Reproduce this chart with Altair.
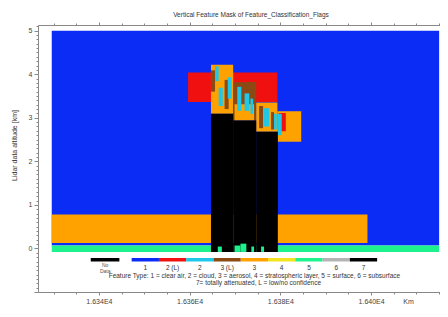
import altair as alt
import pandas as pd

FONT = "Liberation Sans"
title_text = "Vertical Feature Mask of Feature_Classification_Flags"

# feature type codes and colours
type_codes = ["clear", "cloudL", "cloud", "aeroL", "aero", "strat", "surf", "sub", "att", "nodata"]
type_colors = ["#0a2cf5", "#f01010", "#1ec8e6", "#8b4a14", "#ffa200", "#f2e41e", "#1ef28c", "#b4b4b4", "#000000", "#000000"]

# mask rectangles (along-track km, altitude km)
rx0 = [16329.6, 16329.6, 16329.6, 16359.65, 16364.7, 16369.6, 16374.67, 16379.35,
       16364.7, 16367.7, 16365.6, 16366.4, 16368.4, 16369.9, 16370.5, 16372.1, 16373.4,
       16375.3, 16376.4, 16377.95, 16378.6, 16379.65, 16379.4,
       16364.7, 16369.6, 16374.67,
       16366.2, 16369.9, 16371.2, 16373.6, 16375.75]
rx1 = [16415.0, 16415.0, 16399.2, 16379.35, 16369.6, 16374.67, 16379.35, 16384.6,
       16365.6, 16368.6, 16366.4, 16367.3, 16369.25, 16374.2, 16371.4, 16373.15, 16374.0,
       16376.2, 16377.5, 16378.6, 16379.2, 16381.2, 16380.3,
       16369.6, 16374.67, 16379.44,
       16367.1, 16371.2, 16372.5, 16374.2, 16376.4]
ry0 = [0.067, -0.08, 0.127, 3.36, 3.09, 2.94, 2.68, 2.45,
       3.6, 3.2, 3.84, 3.27, 3.44, 2.94, 3.16, 3.16, 3.09,
       2.76, 2.8, 2.73, 2.73, 2.69, 2.6,
       -0.08, -0.08, -0.08,
       -0.08, -0.08, -0.08, -0.08, -0.08]
ry1 = [5.0, 0.067, 0.78, 4.04, 4.22, 3.82, 3.35, 3.15,
       4.09, 3.87, 4.18, 3.69, 3.93, 3.31, 3.71, 3.56, 3.44,
       3.27, 3.22, 3.13, 3.09, 3.11, 3.09,
       3.09, 2.94, 2.68,
       0.044, 0.067, 0.11, 0.044, 0.044]
rtype = ["clear", "surf", "aero", "cloudL", "aero", "aeroL", "aero", "aero",
         "aeroL", "aeroL", "cloud", "cloud", "cloud", "aero", "cloud", "cloud", "cloud",
         "aeroL", "cloud", "aeroL", "cloud", "cloudL", "cloud",
         "att", "att", "att",
         "surf", "surf", "surf", "surf", "surf"]

# legend
legend_start = [-1.5, 0, 1, 2, 3, 4, 5, 6, 7, 8]
legend_end = [-0.45, 1, 2, 3, 4, 5, 6, 7, 8, 9]
legend_type = ["nodata", "clear", "cloudL", "cloud", "aeroL", "aero", "strat", "surf", "sub", "att"]
legend_labels = ["", "1", "2 (L)", "2", "3 (L)", "3", "4", "5", "6", "7"]
legend_note1 = "Feature Type: 1 = clear air,  2 = cloud,  3 = aerosol,  4 = stratospheric layer,  5 = surface,  6 = subsurface"
legend_note2 = "7= totally attenuated,  L = low/no confidence"

# axes ticks
X_DOM = [16326.57, 16415.19]
Y_DOM = [-1.0, 5.13]
x_ticks = list(range(16330, 16416, 5))
y_ticks = [round(-1.0 + 0.1 * i, 1) for i in range(0, 62)]
LEG_DOM = [-3.434, 11.305]

W, H = 402, 267

df = pd.DataFrame({"x0": rx0, "x1": rx1, "y0": ry0, "y1": ry1, "t": rtype,
                   "k": list(range(len(rx0)))})
leg = pd.DataFrame({"i0": legend_start, "i1": legend_end, "t": legend_type,
                    "lab": legend_labels})
leg["ic"] = (leg["i0"] + leg["i1"]) / 2

color_scale = alt.Scale(domain=type_codes, range=type_colors)
int_test = "abs(datum.value - round(datum.value)) < 0.001"

y_axis = alt.Axis(
    values=y_ticks, orient="left", grid=False,
    labelExpr=f"({int_test}) && datum.value > -0.5 ? format(datum.value, 'd') : ''",
    tickSize={"condition": {"test": int_test, "value": 4}, "value": 2},
    labelFontSize=7, labelFont=FONT, labelColor="#444", labelPadding=2,
    labelOverlap=False, labelFlush=False,
    domainColor="#888", tickColor="#888",
    title="Lidar data altitude [km]", titleFontSize=7, titleFont=FONT,
    titleFontWeight="normal", titleColor="#333",
    titleX=-24, titleY=120, titleAngle=270, titleBaseline="middle", titleAlign="center",
)
maj_test = "datum.value % 20 === 0"
x_axis = alt.Axis(
    values=x_ticks, orient="bottom", grid=False,
    labelExpr=f"{maj_test} ? replace(format(datum.value, '.3e'), 'e+', 'E') : ''",
    tickSize={"condition": {"test": maj_test, "value": 3}, "value": 2},
    labelFontSize=7, labelFont=FONT, labelColor="#444", labelPadding=2,
    labelOverlap=False, labelFlush=False,
    domainColor="#888", tickColor="#888",
    title="Km", titleFontSize=7, titleFont=FONT, titleFontWeight="normal", titleColor="#444",
    titleX=370, titleY=9, titleBaseline="middle", titleAlign="center",
)
top_axis = alt.Axis(
    values=x_ticks, orient="top", grid=False, labels=False, title=None,
    tickSize={"condition": {"test": maj_test, "value": 3}, "value": 2},
    domainColor="#888", tickColor="#888",
)

main = alt.Chart(df).mark_rect(clip=True).encode(
    x=alt.X("x0:Q", scale=alt.Scale(domain=X_DOM, nice=False, zero=False), axis=x_axis),
    x2="x1:Q",
    y=alt.Y("y0:Q", scale=alt.Scale(domain=Y_DOM, nice=False, zero=False), axis=y_axis),
    y2="y1:Q",
    color=alt.Color("t:N", scale=color_scale, legend=None),
    order=alt.Order("k:Q"),
)

top = alt.Chart(df).mark_point(opacity=0).encode(
    x=alt.X("x0:Q", scale=alt.Scale(domain=X_DOM, nice=False, zero=False), axis=top_axis),
)

leg_scale = alt.Scale(domain=LEG_DOM, nice=False, zero=False)
leg_bars = alt.Chart(leg).mark_rect().encode(
    x=alt.X("i0:Q", scale=leg_scale, axis=None),
    x2="i1:Q",
    y=alt.value(233), y2=alt.value(236.5),
    color=alt.Color("t:N", scale=color_scale, legend=None),
)
leg_text = alt.Chart(leg).mark_text(fontSize=6.5, font=FONT, color="#333").encode(
    x=alt.X("ic:Q", scale=leg_scale, axis=None),
    y=alt.value(243),
    text="lab:N",
)
nd = pd.DataFrame({"ic": [-0.97, -0.97], "lab": ["No", "Data"], "row": [0, 1]})
nd_text = alt.Chart(nd).mark_text(fontSize=5, font=FONT, color="#555").encode(
    x=alt.X("ic:Q", scale=leg_scale, axis=None),
    y=alt.Y("row:Q", scale=alt.Scale(domain=[0, 1], range=[240, 245.5]), axis=None),
    text="lab:N",
)
notes = pd.DataFrame({"ic": [4.5, 4.65], "lab": [legend_note1, legend_note2], "row": [0, 1]})
note_text = alt.Chart(notes).mark_text(fontSize=6.5, font=FONT, color="#333").encode(
    x=alt.X("ic:Q", scale=alt.Scale(domain=LEG_DOM, nice=False, zero=False), axis=None),
    y=alt.Y("row:Q", scale=alt.Scale(domain=[0, 1], range=[250.5, 257.5]), axis=None),
    text="lab:N",
)

chart = alt.layer(main, top, leg_bars, leg_text, nd_text, note_text).resolve_scale(
    x="independent", y="independent"
).resolve_axis(x="independent", y="independent").properties(
    width=W, height=H,
    autosize=alt.AutoSizeParams(type="none"),
    padding={"left": 30, "top": 17, "right": 0, "bottom": 14},
    title=alt.TitleParams(title_text, fontSize=6.5, fontWeight="normal", font=FONT,
                          color="#333", dx=12, offset=3),
).configure_view(stroke=None).configure(background="white")

chart.save("out.html", embed_options={"renderer": "svg", "actions": False})
